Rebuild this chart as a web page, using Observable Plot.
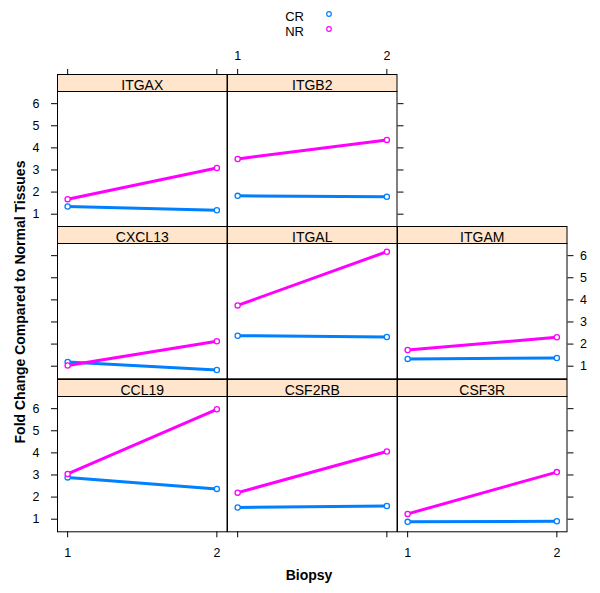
<!DOCTYPE html>
<html><head><meta charset="utf-8">
<script src="https://cdn.jsdelivr.net/npm/d3@7"></script>
<script src="https://cdn.jsdelivr.net/npm/@observablehq/plot@0.6"></script>
<style>
body{margin:0;background:#fff;font-family:"Liberation Sans",Arial,sans-serif;}
#chart{position:relative;width:600px;height:593px;overflow:hidden;background:#fff;}
.panel{position:absolute;}
.txt{position:absolute;white-space:nowrap;line-height:1;color:#000;}
</style></head><body><div id="chart"></div>
<script>
// ---- data ----
const genes = ["ITGAX","ITGB2","CXCL13","ITGAL","ITGAM","CCL19","CSF2RB","CSF3R"];
const panelRow = [0,0,1,1,1,2,2,2];
const panelCol = [0,1,0,1,2,0,1,2];
const biopsy = [1,2];
const groups = ["CR","NR"];
const crValues = [[1.35,1.18],[1.83,1.79],[1.19,0.83],[2.38,2.32],[1.33,1.37],[2.89,2.37],[1.53,1.60],[0.88,0.91]];
const nrValues = [[1.68,3.09],[3.50,4.36],[1.03,2.13],[3.75,6.18],[1.73,2.31],[3.05,5.97],[2.20,4.06],[1.24,3.13]];
const yTicks = [1,2,3,4,5,6];
const xTicks = [1,2];
const colors = ["#0080ff","#ff00ff"];
const yTitle = "Fold Change Compared to Normal Tissues";
const xTitle = "Biopsy";

// ---- layout ----
const colLeft = [57.3, 227.3, 396.6];
const colW = 169.5;
const rowTop = [74, 226.3, 378.7];
const stripH = 17, panelH = 135.3;
const font = '"Liberation Sans", Arial, sans-serif';
const chart = document.getElementById("chart");
const nRows = 3;

genes.forEach((g, i) => {
  const r = panelRow[i], c = panelCol[i];
  const data = [];
  biopsy.forEach((b, j) => {
    data.push({gene: g, biopsy: b, group: groups[0], value: crValues[i][j]});
    data.push({gene: g, biopsy: b, group: groups[1], value: nrValues[i][j]});
  });
  const rowCols = panelCol.filter((_, k) => panelRow[k] === r);
  const lastInRow = c === Math.max(...rowCols);
  const blank = () => "";
  const marks = [
    Plot.frame({insetTop: -stripH, insetBottom: panelH, fill: "#ffe5cc", stroke: "black"}),
    Plot.text([g], {text: d => d, frameAnchor: "top", lineAnchor: "middle", dy: -6, fontSize: 14, fill: "black"}),
    Plot.frame({stroke: "black"}),
    Plot.line(data, {x: "biopsy", y: "value", z: "group", stroke: "group", strokeWidth: 3}),
    Plot.dot(data, {x: "biopsy", y: "value", stroke: "group", fill: "white", r: 2.6, strokeWidth: 1.3})
  ];
  if (c === 0) marks.push(Plot.axisY(yTicks, {anchor: "left", tickSize: 6, tickPadding: 12, tickFormat: (r % 2 === 1) ? blank : d => d, label: null}));
  if (lastInRow) marks.push(Plot.axisY(yTicks, {anchor: "right", tickSize: 6, tickPadding: 7, tickFormat: (r % 2 === 1) ? d => d : blank, label: null}));
  if (r === nRows - 1) marks.push(Plot.axisX(xTicks, {anchor: "bottom", tickSize: 6, tickPadding: 10, tickFormat: (c % 2 === 1) ? blank : d => d, label: null}));
  if (r === 0) marks.push(Plot.axisX(xTicks, {anchor: "top", dy: -stripH, tickSize: 6, tickPadding: 9, tickFormat: (c % 2 === 1) ? d => d : blank, label: null}));

  const svg = Plot.plot({
    width: colW, height: stripH + panelH,
    marginTop: stripH, marginBottom: 0, marginLeft: 0, marginRight: 0,
    x: {domain: [0.932, 2.068], axis: null},
    y: {domain: [0.43, 6.55], axis: null},
    color: {domain: groups, range: colors},
    style: {background: "transparent", overflow: "visible", fontFamily: font, fontSize: "12.5px", color: "black"},
    marks
  });
  const div = document.createElement("div");
  div.className = "panel";
  div.style.left = colLeft[c] + "px";
  div.style.top = rowTop[r] + "px";
  div.appendChild(svg);
  chart.appendChild(div);
});

// axis titles
const yt = document.createElement("div");
yt.className = "txt";
yt.textContent = yTitle;
Object.assign(yt.style, {left: "20px", top: "302px", fontWeight: "bold", fontSize: "14px", transform: "translate(-50%,-50%) rotate(-90deg)"});
chart.appendChild(yt);
const xt = document.createElement("div");
xt.className = "txt";
xt.textContent = xTitle;
Object.assign(xt.style, {left: "309px", top: "575px", fontWeight: "bold", fontSize: "14px", transform: "translate(-50%,-50%)"});
chart.appendChild(xt);

// legend
groups.forEach((gr, k) => {
  const cy = [16, 31][k];
  const t = document.createElement("div");
  t.className = "txt";
  t.textContent = gr;
  Object.assign(t.style, {left: "304px", top: cy + "px", fontSize: "13px", transform: "translate(-100%,-50%)"});
  chart.appendChild(t);
  const s = document.createElementNS("http://www.w3.org/2000/svg", "svg");
  s.setAttribute("width", 10); s.setAttribute("height", 10);
  Object.assign(s.style, {position: "absolute", left: "324px", top: (cy - 7) + "px"});
  const ci = document.createElementNS("http://www.w3.org/2000/svg", "circle");
  ci.setAttribute("cx", 5); ci.setAttribute("cy", 5); ci.setAttribute("r", 2.3);
  ci.setAttribute("fill", "none"); ci.setAttribute("stroke", colors[k]); ci.setAttribute("stroke-width", 1.2);
  s.appendChild(ci);
  chart.appendChild(s);
});
</script></body></html>
